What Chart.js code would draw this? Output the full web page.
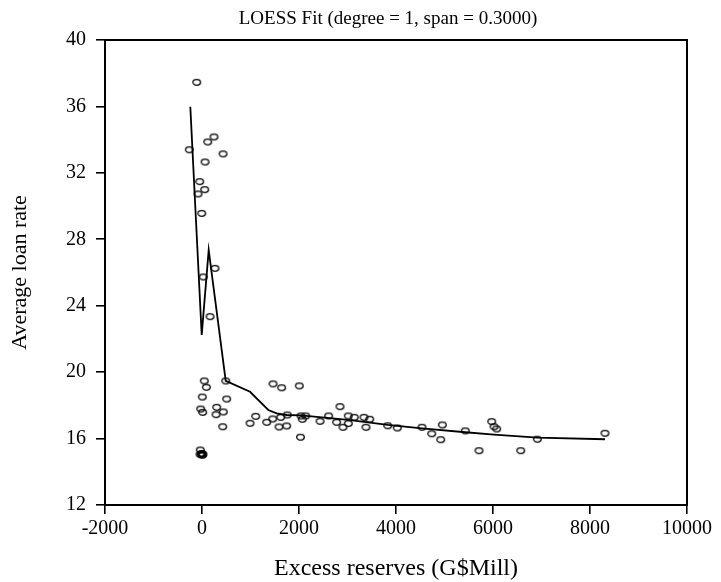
<!DOCTYPE html>
<html>
<head>
<meta charset="utf-8">
<script src="https://cdn.jsdelivr.net/npm/chart.js@4/dist/chart.umd.min.js"></script>
<style>
  html, body { margin: 0; padding: 0; background: #ffffff; }
  #wrap { width: 721px; height: 582px; }
</style>
</head>
<body>
<div id="wrap"><canvas id="c" width="721" height="582"></canvas></div>
<script>
// Observations: excess reserves (G$Mill) vs average loan rate
const reserveX = [
  -109, 247, 118, -262, 433, 62, -47, 56, -82, -6, 268, 27, 165,
  47, 89, 6, 509, -27, 14, 303, 439, 289, 427, -35,
  -40, -20, 0, 20, -10, 10,
  489, 1464, 1643, 2006, 1107, 990, 1334, 1458, 1623, 1759, 1588, 1746,
  2030, 2041, 2138, 2068, 2433, 2612, 2777, 2907, 3016, 3016, 3140, 2845,
  3340, 3458, 3381, 3829, 4027, 4536, 4736, 4955, 4922, 5429, 5711,
  5973, 6021, 6076, 6571, 6914, 8309
];
const loanRateY = [
  37.45, 34.16, 33.86, 33.39, 33.14, 32.65, 31.47, 30.99, 30.73, 29.56, 26.25, 25.73, 23.34,
  19.47, 19.09, 18.50, 18.38, 17.78, 17.58, 17.88, 17.60, 17.44, 16.71, 15.31,
  15.05, 15.02, 15.08, 15.05, 15.10, 15.00,
  19.47, 19.29, 19.06, 19.17, 17.34, 16.92, 16.98, 17.18, 17.28, 17.42, 16.70, 16.76,
  16.08, 17.36, 17.36, 17.16, 17.04, 17.36, 16.98, 16.68, 17.36, 16.90, 17.28, 17.92,
  17.28, 17.16, 16.68, 16.77, 16.64, 16.68, 16.29, 16.82, 15.93, 16.46, 15.27,
  17.02, 16.71, 16.58, 15.27, 15.96, 16.32
];
// LOESS fitted curve
const fitX = [-241, -6, 138, 489, 990, 1367, 1540, 1746, 2041, 3016, 3829, 4536, 5429, 6021, 6914, 8309];
const fitY = [35.98, 22.24, 27.35, 19.47, 18.82, 17.72, 17.52, 17.42, 17.40, 17.12, 16.82, 16.62, 16.38, 16.24, 16.06, 15.96];

const titleText = 'LOESS Fit (degree = 1, span = 0.3000)';
const xTitle = 'Excess reserves (G$Mill)';
const yTitle = 'Average loan rate';

const FONT = "'Liberation Serif', 'Times New Roman', serif";

// hollow ellipse marker
const marker = document.createElement('canvas');
marker.width = 11; marker.height = 9;
(function () {
  const m = marker.getContext('2d');
  m.strokeStyle = '#000';
  m.lineWidth = 1.3;
  m.beginPath();
  m.ellipse(5.5, 4.5, 3.8, 2.8, 0, 0, Math.PI * 2);
  m.stroke();
})();

const scatterPts = reserveX.map((x, i) => ({ x: x, y: loanRateY[i] }));
const fitPts = fitX.map((x, i) => ({ x: x, y: fitY[i] }));

const framePlugin = {
  id: 'frame',
  afterDraw(chart) {
    const { ctx, chartArea: a } = chart;
    ctx.save();
    ctx.strokeStyle = '#000';
    ctx.lineWidth = 2;
    ctx.strokeRect(a.left, a.top, a.right - a.left, a.bottom - a.top);
    ctx.fillStyle = '#000';
    ctx.font = '19px ' + FONT;
    ctx.textAlign = 'center';
    ctx.textBaseline = 'middle';
    ctx.fillText(titleText, 388, 19);
    ctx.restore();
  }
};

new Chart(document.getElementById('c'), {
  type: 'scatter',
  data: {
    datasets: [
      {
        label: 'LOESS fit',
        data: fitPts,
        showLine: true,
        borderColor: '#000',
        borderWidth: 1.8,
        pointRadius: 0,
        fill: false,
        tension: 0,
        order: 1
      },
      {
        label: 'Observations',
        data: scatterPts,
        showLine: false,
        pointStyle: marker,
        pointRadius: 4,
        order: 0
      }
    ]
  },
  options: {
    responsive: false,
    animation: false,
    devicePixelRatio: 1,
    layout: { padding: { top: 40, right: 34, left: 0, bottom: 0 } },
    plugins: {
      legend: { display: false },
      title: { display: false },
      tooltip: { enabled: false }
    },
    scales: {
      x: {
        type: 'linear',
        min: -2000,
        max: 10000,
        afterFit(s) { s.height = 77; },
        ticks: {
          stepSize: 2000,
          color: '#000',
          padding: 3,
          maxRotation: 0,
          callback: (v) => String(v),
          font: { family: FONT, size: 20 }
        },
        grid: { drawOnChartArea: false, drawTicks: true, tickLength: 9, color: '#000', lineWidth: 1.6 },
        border: { display: true, color: '#000', width: 2 },
        title: {
          display: true,
          text: xTitle,
          color: '#000',
          font: { family: FONT, size: 24, lineHeight: 1.1 },
          padding: { top: 8, bottom: 0 }
        }
      },
      y: {
        type: 'linear',
        min: 12,
        max: 40,
        afterFit(s) { s.width = 105; },
        ticks: {
          stepSize: 4,
          color: '#000',
          padding: 10,
          callback: (v) => String(v),
          font: { family: FONT, size: 20 }
        },
        grid: { drawOnChartArea: false, drawTicks: true, tickLength: 9, color: '#000', lineWidth: 1.6 },
        border: { display: true, color: '#000', width: 2 },
        title: {
          display: true,
          text: yTitle,
          color: '#000',
          font: { family: FONT, size: 22 },
          padding: { top: 7, bottom: 0 }
        }
      }
    }
  },
  plugins: [framePlugin]
});
</script>
</body>
</html>
